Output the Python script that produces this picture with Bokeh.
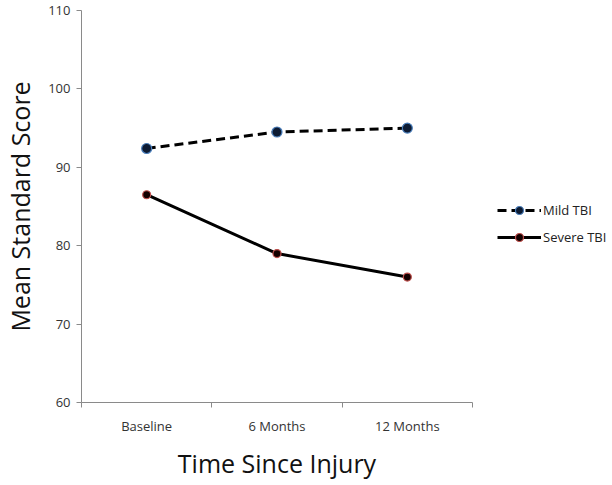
from bokeh.plotting import figure
from bokeh.models import FixedTicker, Range1d, Legend, LegendItem
from bokeh.embed import file_html
from bokeh.resources import INLINE

categories = ["Baseline", "6 Months", "12 Months"]
mild_tbi = [92.4, 94.5, 95.0]
severe_tbi = [86.5, 79.0, 76.0]
y_ticks = [60, 70, 80, 90, 100, 110]

xs = [i + 0.5 for i in range(len(categories))]

p = figure(width=612, height=485, output_backend="svg", toolbar_location=None,
           x_range=Range1d(0, len(categories)), y_range=Range1d(60, 110),
           frame_width=391, frame_height=392,
           min_border_left=81, min_border_right=140, min_border_top=10, min_border_bottom=83)
p.outline_line_color = None
p.xgrid.visible = False
p.ygrid.visible = False
p.background_fill_color = "white"

axis_gray = "#8a8a8a"
tick_font = "Open Sans"
title_font = "Open Sans"

# y axis
p.yaxis.ticker = FixedTicker(ticks=y_ticks, minor_ticks=[])
p.yaxis.axis_line_color = axis_gray
p.yaxis.major_tick_line_color = axis_gray
p.yaxis.major_tick_out = 5
p.yaxis.major_tick_in = 0
p.yaxis.minor_tick_line_color = None
p.yaxis.major_label_text_font = tick_font
p.yaxis.major_label_text_font_size = "13px"
p.yaxis.major_label_text_color = "#333333"
p.yaxis.major_label_standoff = 6
p.yaxis.axis_label = "Mean Standard Score"
p.yaxis.axis_label_text_font = title_font
p.yaxis.axis_label_text_font_size = "25px"
p.yaxis.axis_label_text_font_style = "normal"
p.yaxis.axis_label_text_color = "#111111"
p.yaxis.axis_label_standoff = 8

# x axis
p.xaxis.ticker = FixedTicker(ticks=xs, minor_ticks=list(range(len(categories) + 1)))
p.xaxis.major_label_overrides = {x: c for x, c in zip(xs, categories)}
p.xaxis.axis_line_color = axis_gray
p.xaxis.major_tick_line_color = None
p.xaxis.minor_tick_line_color = axis_gray
p.xaxis.minor_tick_out = 5
p.xaxis.minor_tick_in = 0
p.xaxis.major_label_text_font = tick_font
p.xaxis.major_label_text_font_size = "13px"
p.xaxis.major_label_text_color = "#333333"
p.xaxis.major_label_standoff = 8
p.xaxis.axis_label = "Time Since Injury"
p.xaxis.axis_label_text_font = title_font
p.xaxis.axis_label_text_font_size = "25px"
p.xaxis.axis_label_text_font_style = "normal"
p.xaxis.axis_label_text_color = "#111111"
p.xaxis.axis_label_standoff = 8

l1 = p.line(xs, mild_tbi, line_color="black", line_width=3, line_dash="9 5")
s1 = p.scatter(xs, mild_tbi, size=10, fill_color="#0d1b33", line_color="#4a7ebb", line_width=1.2)
l2 = p.line(xs, severe_tbi, line_color="black", line_width=3)
s2 = p.scatter(xs, severe_tbi, size=8, fill_color="#140000", line_color="#c0504d", line_width=1.2)

legend = Legend(items=[LegendItem(label="Mild TBI", renderers=[l1, s1]),
                       LegendItem(label="Severe TBI", renderers=[l2, s2])],
                location=(25, 155), padding=0, margin=0, spacing=7,
                glyph_width=44, glyph_height=20, label_height=20,
                label_standoff=2, border_line_color=None,
                background_fill_alpha=0,
                label_text_font=tick_font, label_text_font_size="13px",
                label_text_color="#222222")
p.add_layout(legend, "right")

open("out.html", "w").write(file_html(p, INLINE))
